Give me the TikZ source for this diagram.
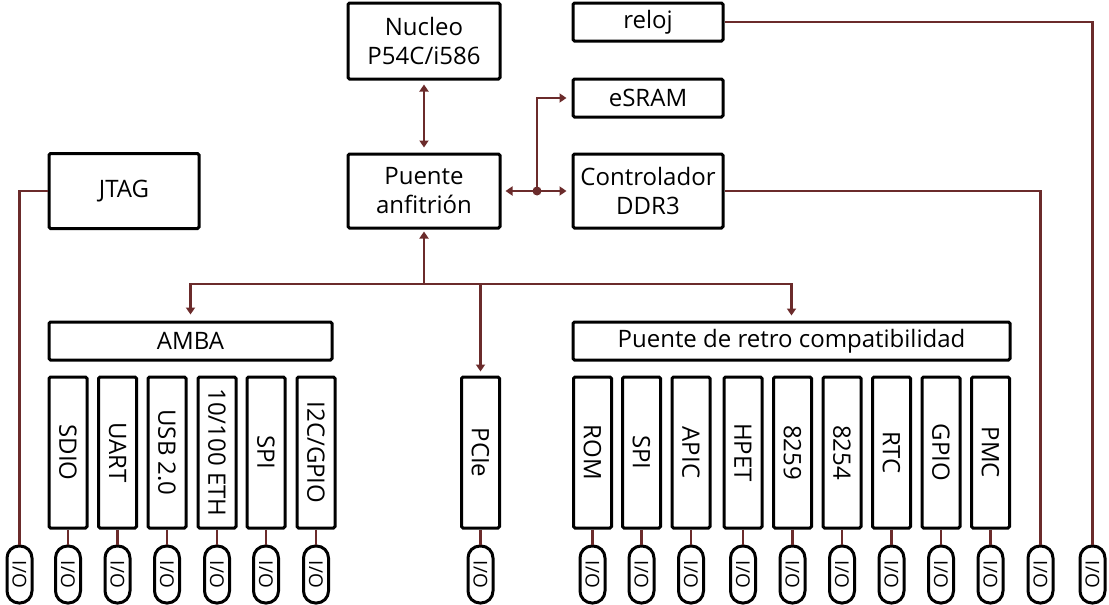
\documentclass[tikz,border=0pt]{standalone}
\usepackage{fontspec}
\setmainfont{Open Sans}
\usetikzlibrary{arrows.meta}
\definecolor{wire}{HTML}{6B2B2B}
\tikzset{
  box/.style={draw, line width=3pt, rounded corners=1.5pt, fill=white, inner sep=0pt, align=center, font=\fontsize{24}{29}\selectfont},
  vbox/.style={box, rotate=-90, minimum width=151pt, minimum height=38pt},
  pad/.style={draw, line width=3pt, rounded corners=12pt, fill=white, inner sep=0pt, rotate=-90, minimum width=57pt, minimum height=25pt, font=\fontsize{19}{21}\selectfont},
  conn/.style={draw=wire, line width=2.5pt, -{Triangle[length=7pt,width=9pt]}},
  dconn/.style={draw=wire, line width=2.5pt, {Triangle[length=7pt,width=9pt]}-{Triangle[length=7pt,width=9pt]}},
  pline/.style={draw=wire, line width=2.5pt}
}
\begin{document}
\begin{tikzpicture}[x=1pt,y=-1pt]
\useasboundingbox (0,0) rectangle (1109,605);
% top boxes
\node[box, minimum width=152pt, minimum height=76pt] (nuc) at (424,41) {Nucleo\\P54C/i586};
\node[box, minimum width=150pt, minimum height=38pt] (reloj) at (648,22) {reloj};
\node[box, minimum width=150pt, minimum height=38pt] (esram) at (648,98) {eSRAM};
\node[box, minimum width=150pt, minimum height=74pt] (ddr) at (648,191) {Controlador\\DDR3};
\node[box, minimum width=152pt, minimum height=74pt] (pa) at (424,191) {Puente\\anfitrión};
\node[box, minimum width=150pt, minimum height=75pt] (jtag) at (124,191) {JTAG};
\node[box, minimum width=283pt, minimum height=38pt] (amba) at (190.5,341) {AMBA};
\node[box, minimum width=437pt, minimum height=38pt] (retro) at (791.5,341) {Puente de retro compatibilidad};
% vertical boxes
\node[vbox] (sdio) at (68,452.5) {SDIO};
\node[vbox] (uart) at (117.5,452.5) {UART};
\node[vbox] (usb) at (167,452.5) {USB 2.0};
\node[vbox] (eth) at (217,452.5) {10/100 ETH};
\node[vbox] (spia) at (266,452.5) {SPI};
\node[vbox] (i2c) at (316,452.5) {I2C/GPIO};
\node[vbox] (pcie) at (480.5,452.5) {PCIe};
\node[vbox] (rom) at (592.5,452.5) {ROM};
\node[vbox] (spib) at (641.5,452.5) {SPI};
\node[vbox] (apic) at (691,452.5) {APIC};
\node[vbox] (hpet) at (743,452.5) {HPET};
\node[vbox] (p8259) at (792.5,452.5) {8259};
\node[vbox] (p8254) at (842,452.5) {8254};
\node[vbox] (rtc) at (891.5,452.5) {RTC};
\node[vbox] (gpio) at (941,452.5) {GPIO};
\node[vbox] (pmc) at (990.5,452.5) {PMC};
% pads
\node[pad] (padj) at (19.5,574.5) {I/O};
\foreach \n/\x in {sdio/68,uart/117.5,usb/167,eth/217,spia/266,i2c/316,pcie/480.5,rom/592.5,spib/641.5,apic/691,hpet/743,p8259/792.5,p8254/842,rtc/891.5,gpio/941,pmc/990.5}{
  \node[pad] (pad\n) at (\x,574.5) {I/O};
  \draw[pline] (\n) -- (pad\n);
}
\node[pad] (padd) at (1040.5,574.5) {I/O};
\node[pad] (padr) at (1092.5,574.5) {I/O};
% connectors
\coordinate (bus) at (424,284);
\coordinate (dot) at (537,191);
\draw[dconn, shorten <=4pt, shorten >=5pt] (nuc) -- (pa);
\draw[dconn, shorten <=4pt, shorten >=5pt] (pa) -- (ddr);
\draw[conn, shorten >=5pt] (dot) |- (esram);
\fill[wire] (dot) circle[radius=4.5pt];
\draw[conn, shorten >=2pt] (bus) -- (pa);
\draw[conn, shorten >=6pt] (bus) -| (amba);
\draw[conn, shorten >=4pt] (bus) -| (pcie);
\draw[conn, shorten >=5pt] (bus) -| (retro);
\draw[pline] (jtag) -| (padj);
\draw[pline] (reloj) -| (padr);
\draw[pline] (ddr) -| (padd);
\end{tikzpicture}
\end{document}
